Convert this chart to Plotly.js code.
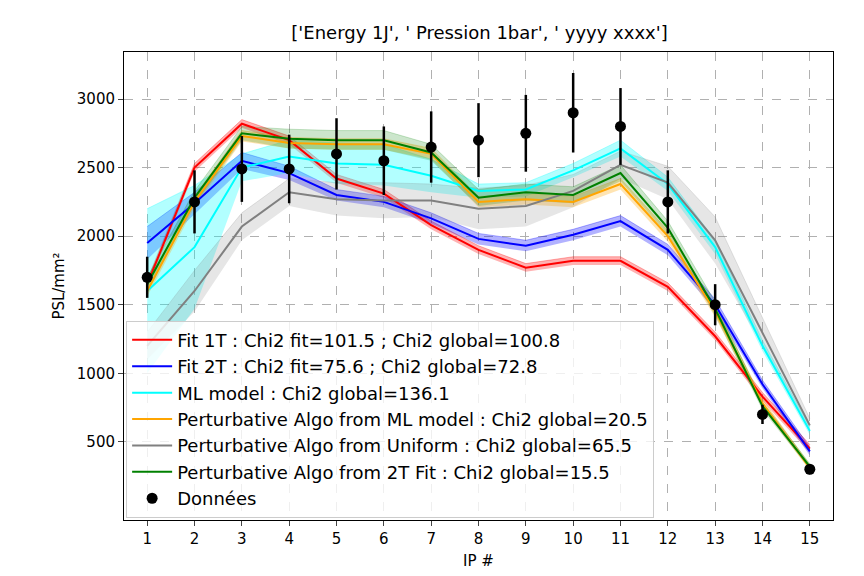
<!DOCTYPE html>
<html><head><meta charset="utf-8">
<script src="https://cdn.plot.ly/plotly-3.0.1.min.js"></script>
</head><body style="margin:0">
<div id="chart" style="width:864px;height:576px"></div>
<script>
//IP positions
var ip = [1,2,3,4,5,6,7,8,9,10,11,12,13,14,15];

//Model curves and their band half-widths
var fit1T = [1650,2500,2820,2700,2420,2310,2080,1900,1770,1820,1820,1630,1270,830,450];
var fit1TErr = [30,30,30,30,30,30,30,30,30,30,30,30,30,30,30];
var fit2T = [1950,2240,2550,2460,2300,2250,2130,1980,1930,2010,2110,1900,1500,920,430];
var fit2TErr = [120,80,60,50,40,40,40,40,40,40,40,40,40,30,30];
var mlModel = [1600,1920,2500,2580,2530,2520,2440,2330,2340,2480,2640,2380,1920,1200,580];
var mlErr = [600,450,100,120,150,150,120,50,50,50,60,50,50,40,30];
var pertML = [1600,2250,2730,2680,2670,2670,2600,2250,2270,2250,2380,2000,1450,780,310];
var pertMLErr = [40,40,40,40,40,40,40,40,40,40,40,40,40,30,20];
var pertUni = [1200,1600,2070,2320,2270,2260,2260,2200,2220,2330,2520,2390,1970,1300,620];
var pertUniErr = [100,150,100,100,120,130,120,150,150,120,100,120,170,100,50];
var pert2T = [1650,2280,2750,2710,2700,2700,2610,2280,2320,2300,2460,2060,1470,760,320];
var pert2TErr = [50,50,50,70,70,70,60,60,60,60,60,50,50,30,20];

//Measured data
var dataY = [1700,2250,2490,2490,2600,2550,2650,2700,2750,2900,2800,2250,1500,700,300];
var dataErr = [150,230,240,250,260,250,260,270,280,290,280,230,150,70,30];

var names = ['Fit 1T : Chi2 fit=101.5 ; Chi2 global=100.8',
  'Fit 2T : Chi2 fit=75.6 ; Chi2 global=72.8',
  'ML model : Chi2 global=136.1',
  'Perturbative Algo from ML model : Chi2 global=20.5',
  'Perturbative Algo from Uniform : Chi2 global=65.5',
  'Perturbative Algo from 2T Fit : Chi2 global=15.5'];

var series = [
  {y: fit1T, e: fit1TErr, color: '#ff0000', fill: 'rgba(255,0,0,0.3)'},
  {y: fit2T, e: fit2TErr, color: '#0000ff', fill: 'rgba(0,0,255,0.3)'},
  {y: mlModel, e: mlErr, color: '#00ffff', fill: 'rgba(0,255,255,0.3)'},
  {y: pertML, e: pertMLErr, color: '#ffa500', fill: 'rgba(255,165,0,0.3)'},
  {y: pertUni, e: pertUniErr, color: '#808080', fill: 'rgba(128,128,128,0.2)'},
  {y: pert2T, e: pert2TErr, color: '#008000', fill: 'rgba(0,128,0,0.2)'}
];

var traces = [];
//bands first
series.forEach(function(s) {
  traces.push({x: ip, y: s.y.map(function(v,i){return v - s.e[i];}), mode: 'lines',
    line: {width: 0}, showlegend: false, hoverinfo: 'skip'});
  traces.push({x: ip, y: s.y.map(function(v,i){return v + s.e[i];}), mode: 'lines',
    line: {width: 1, color: s.fill}, fill: 'tonexty', fillcolor: s.fill, showlegend: false, hoverinfo: 'skip'});
});
series.forEach(function(s, k) {
  traces.push({x: ip, y: s.y, mode: 'lines', name: names[k], line: {color: s.color, width: 2}});
});
traces.push({x: ip, y: dataY, mode: 'markers', name: 'Données',
  marker: {color: 'black', size: 11},
  error_y: {type: 'data', array: dataErr, color: 'black', thickness: 2.5, width: 0}});

var layout = {
  width: 864, height: 576,
  margin: {l: 124, r: 31, t: 52, b: 56},
  paper_bgcolor: 'white', plot_bgcolor: 'white',
  font: {family: 'DejaVu Sans', size: 15, color: 'black'},
  title: {text: "['Energy 1J', ' Pression 1bar', ' yyyy xxxx']", x: 0.555, y: 0.955, font: {size: 18}},
  xaxis: {range: [0.51, 15.49], tickvals: ip, ticks: 'outside', ticklen: 5,
    showgrid: true, gridcolor: '#b0b0b0', griddash: 'dash', zeroline: false,
    showline: true, linecolor: 'black', mirror: true,
    title: {text: 'IP #', standoff: 8, font: {size: 15}}},
  yaxis: {range: [-70, 3343], tickvals: [500,1000,1500,2000,2500,3000], ticks: 'outside', ticklen: 5,
    showgrid: true, gridcolor: '#b0b0b0', griddash: 'dash', zeroline: false,
    showline: true, linecolor: 'black', mirror: true,
    title: {text: 'PSL/mm²', standoff: 8, font: {size: 15}}},
  legend: {x: 0.003, y: 0.005, xanchor: 'left', yanchor: 'bottom', traceorder: 'normal',
    bgcolor: 'rgba(255,255,255,0.8)', bordercolor: '#cccccc', borderwidth: 1,
    font: {size: 18}, tracegroupgap: 0, itemwidth: 40}
};

Plotly.newPlot('chart', traces, layout, {displayModeBar: false});
</script>
</body></html>
